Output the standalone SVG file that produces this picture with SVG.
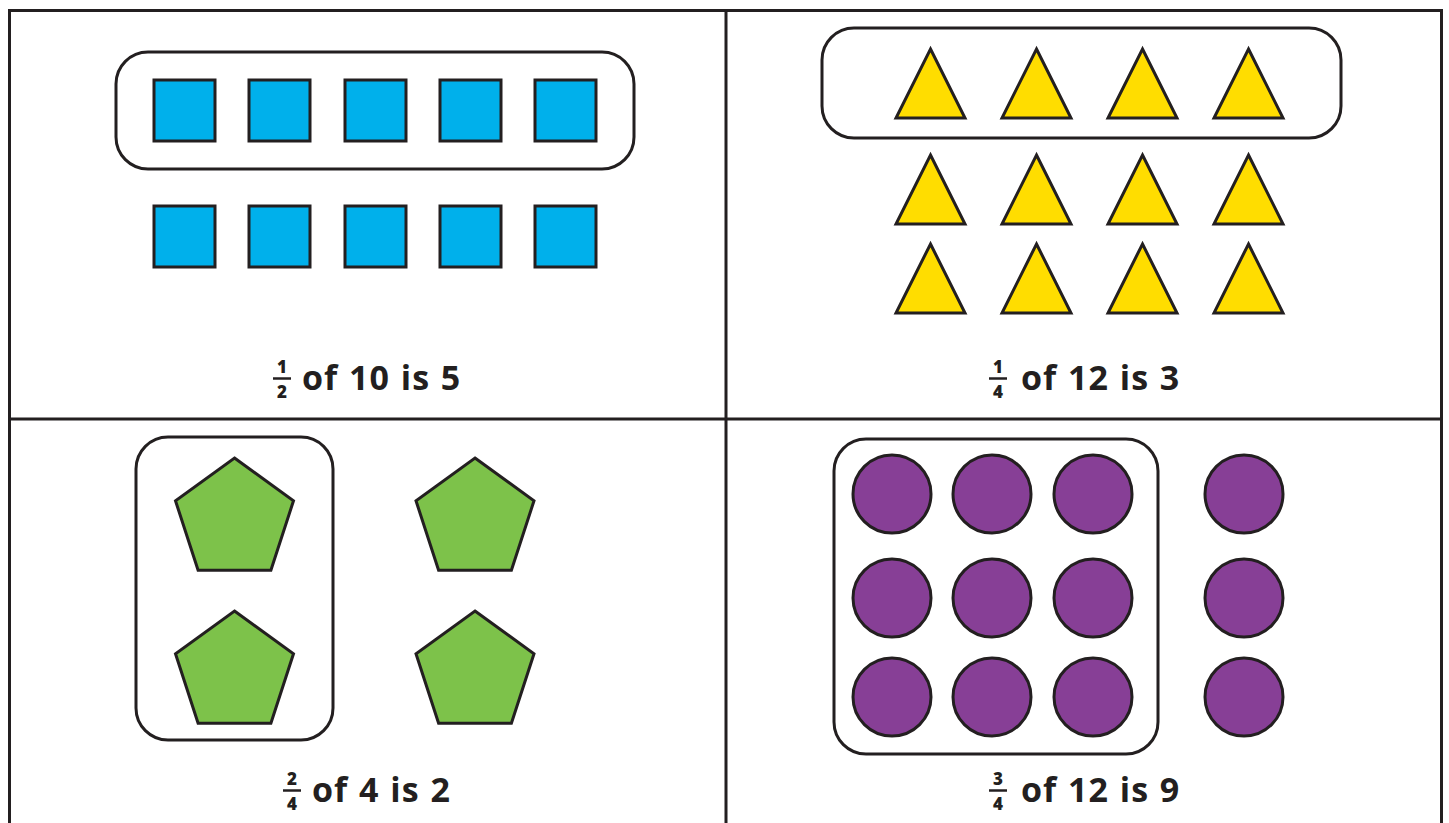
<svg xmlns="http://www.w3.org/2000/svg" width="1449" height="823" viewBox="0 0 1449 823">
<defs>
<style>
.ln{stroke:#231f20;stroke-width:3;fill:none}
.box{stroke:#231f20;stroke-width:3;fill:#fff}
.sq{fill:#00b0eb;stroke:#231f20;stroke-width:3}
.tri{fill:#ffdd00;stroke:#231f20;stroke-width:3;stroke-linejoin:miter}
.pen{fill:#7dc24a;stroke:#231f20;stroke-width:3}
.cir{fill:#873f96;stroke:#231f20;stroke-width:3}
.lab{font-family:"Open Sans","DejaVu Sans",sans-serif;font-weight:bold;font-size:34px;letter-spacing:1px;word-spacing:1px;fill:#231f20}
.fr{font-family:"Open Sans","DejaVu Sans",sans-serif;font-weight:800;font-size:17px;fill:#231f20;text-anchor:middle}
.bar{stroke:#231f20;stroke-width:2.5}
</style>
<rect id="sq" class="sq" x="0" y="0" width="61" height="61"/>
<polygon id="tri" class="tri" points="34.5,0 69,69 0,69"/>
<polygon id="pen" class="pen" points="0,-62 59,-19.2 36.4,50.2 -36.4,50.2 -59,-19.2"/>
<circle id="cir" class="cir" r="39"/>
</defs>
<rect width="1449" height="823" fill="#fff"/>
<g id="grid">
<rect class="ln" x="9.5" y="10.5" width="1432" height="830"/>
<line class="ln" x1="726" y1="10" x2="726" y2="823"/>
<line class="ln" x1="9" y1="419" x2="1442" y2="419"/>
</g>
<g id="panel1">
<rect class="box" x="116" y="52" width="518" height="117" rx="32"/>
<use href="#sq" x="154" y="80"/><use href="#sq" x="249" y="80"/><use href="#sq" x="345" y="80"/><use href="#sq" x="440" y="80"/><use href="#sq" x="535" y="80"/>
<use href="#sq" x="154" y="206"/><use href="#sq" x="249" y="206"/><use href="#sq" x="345" y="206"/><use href="#sq" x="440" y="206"/><use href="#sq" x="535" y="206"/>
<text class="fr" x="282" y="373">1</text><line class="bar" x1="273" y1="378.5" x2="291" y2="378.5"/><text class="fr" x="282" y="398">2</text>
<text class="lab" x="302" y="390">of 10 is 5</text>
</g>
<g id="panel2">
<rect class="box" x="822" y="28" width="519" height="110" rx="32"/>
<use href="#tri" x="896" y="49"/><use href="#tri" x="1002" y="49"/><use href="#tri" x="1108" y="49"/><use href="#tri" x="1214" y="49"/>
<use href="#tri" x="896" y="155"/><use href="#tri" x="1002" y="155"/><use href="#tri" x="1108" y="155"/><use href="#tri" x="1214" y="155"/>
<use href="#tri" x="896" y="244"/><use href="#tri" x="1002" y="244"/><use href="#tri" x="1108" y="244"/><use href="#tri" x="1214" y="244"/>
<text class="fr" x="998" y="373">1</text><line class="bar" x1="989" y1="378.5" x2="1007" y2="378.5"/><text class="fr" x="998" y="398">4</text>
<text class="lab" x="1021" y="390">of 12 is 3</text>
</g>
<g id="panel3">
<rect class="box" x="136" y="437" width="197" height="303" rx="32"/>
<use href="#pen" x="234.5" y="520"/><use href="#pen" x="475" y="520"/>
<use href="#pen" x="234.5" y="673"/><use href="#pen" x="475" y="673"/>
<text class="fr" x="292" y="785">2</text><line class="bar" x1="283" y1="790.5" x2="301" y2="790.5"/><text class="fr" x="292" y="810">4</text>
<text class="lab" x="312" y="802">of 4 is 2</text>
</g>
<g id="panel4">
<rect class="box" x="834" y="439" width="324" height="315" rx="32"/>
<use href="#cir" x="892" y="494"/><use href="#cir" x="992" y="494"/><use href="#cir" x="1093" y="494"/><use href="#cir" x="1244" y="494"/>
<use href="#cir" x="892" y="598"/><use href="#cir" x="992" y="598"/><use href="#cir" x="1093" y="598"/><use href="#cir" x="1244" y="598"/>
<use href="#cir" x="892" y="697"/><use href="#cir" x="992" y="697"/><use href="#cir" x="1093" y="697"/><use href="#cir" x="1244" y="697"/>
<text class="fr" x="998" y="785">3</text><line class="bar" x1="989" y1="790.5" x2="1007" y2="790.5"/><text class="fr" x="998" y="810">4</text>
<text class="lab" x="1021" y="802">of 12 is 9</text>
</g>
</svg>
